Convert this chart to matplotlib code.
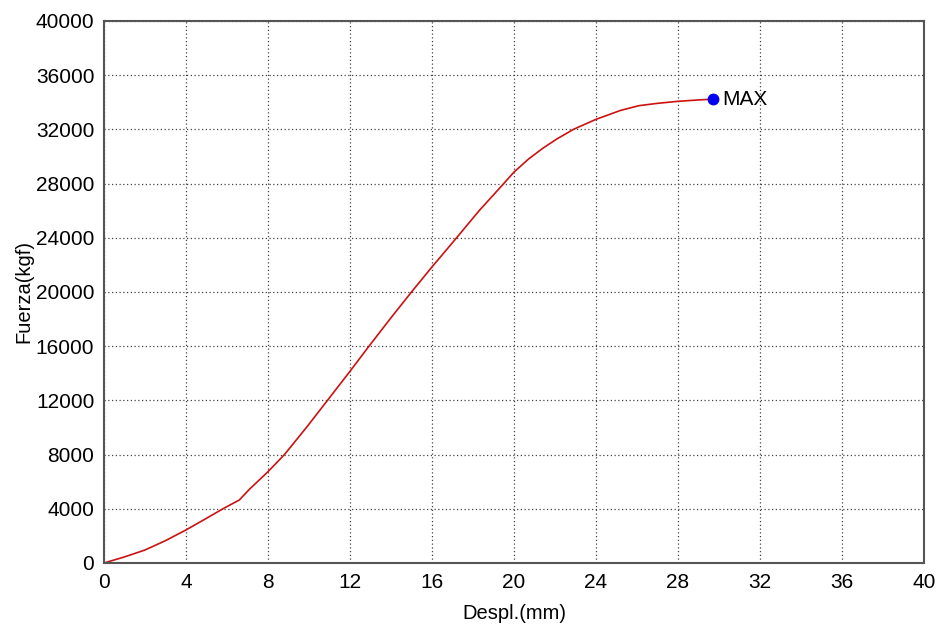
import numpy as np
from matplotlib import pyplot as plt

plt.rcParams['font.family'] = ['Liberation Sans', 'DejaVu Sans']

# desplazamiento (mm) y fuerza (kgf) del ensayo
despl = [0, 1, 2, 3, 4, 5, 5.8, 6.6, 7.1, 8, 8.8, 9.9, 10.9, 12, 12.9, 14,
         15, 16, 17.2, 18.3, 19.5, 20, 20.7, 21.4, 22.1, 22.9, 24, 25.2, 26.1,
         27, 28, 29, 29.7]
fuerza = [0, 450, 960, 1650, 2440, 3300, 4000, 4650, 5450, 6740, 8000, 10050,
          12000, 14150, 15950, 18100, 20000, 21850, 24000, 26000, 28000, 28850,
          29800, 30600, 31300, 32000, 32740, 33400, 33750, 33920, 34070, 34170,
          34230]
max_x = 29.7
max_y = 34230

xticks = np.arange(0, 41, 4)
yticks = np.arange(0, 40001, 4000)

fig = plt.figure(figsize=(9.39, 6.35), dpi=100)
ax = fig.add_axes([0.1108, 0.1134, 0.8732, 0.8536])

ax.plot(despl, fuerza, color='#cc1111', lw=1.2)
ax.plot([max_x], [max_y], 'o', color='#0000ee', ms=7.5, zorder=5)
ax.text(max_x + 0.45, max_y, 'MAX', fontsize=15, va='center', ha='left')

ax.set_xlim(0, 40)
ax.set_ylim(0, 40000)
ax.set_xticks(xticks)
ax.set_yticks(yticks)
ax.tick_params(length=0, labelsize=15, pad=7)
ax.grid(True, linestyle=(0, (1, 2)), color='#444444', lw=0.9)
for s in ax.spines.values():
    s.set_color('#555555')
    s.set_linewidth(1.5)

ax.set_xlabel('Despl.(mm)', fontsize=14.5, labelpad=9)
ax.set_ylabel('Fuerza(kgf)', fontsize=14.5, labelpad=2)

plt.savefig('out.png')
